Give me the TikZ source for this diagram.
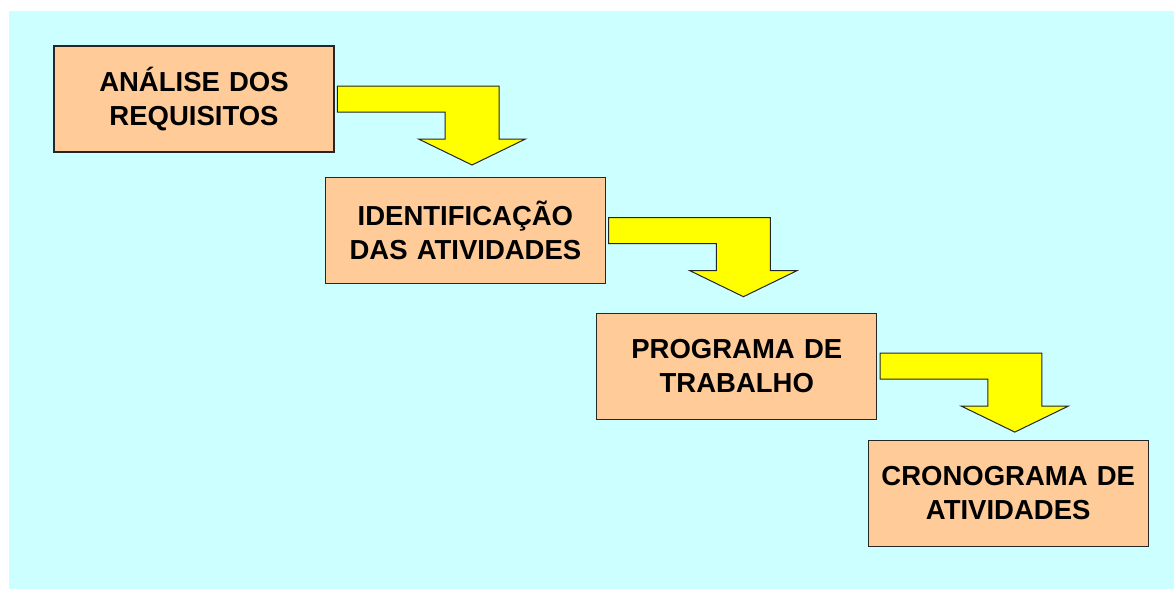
\documentclass[tikz,border=0pt]{standalone}
\usepackage{fontspec}
\setmainfont{Liberation Sans}
\usepackage{xcolor}
\usepackage{tikz}
\usetikzlibrary{positioning,calc}
\definecolor{sky}{HTML}{CCFFFF}
\definecolor{peach}{HTML}{FFCC99}
\definecolor{lemon}{HTML}{FFFF00}

\begin{document}
\begin{tikzpicture}[
  x=1pt, y=-1pt,
  stage/.style = {rectangle, draw=black!85, line width=1.1pt, fill=peach,
                  minimum width=280pt, minimum height=106pt,
                  text width=262pt, align=center, inner sep=0pt,
                  outer sep=0pt,
                  font=\fontsize{27.5}{34}\selectfont\bfseries},
  bentarrow/.style = {draw=black!85, line width=1pt, fill=lemon,
                      line join=miter}
]

%% ─── Background and page ────────────────────────────────────────
\useasboundingbox (0,0) rectangle (1174,589);
\fill[sky] (9,11) rectangle (1174,589);

%% ─── Stages (stepping down to the right) ────────────────────────
\node[stage] (anal) at (194,99)
  {ANÁLISE DOS\\REQUISITOS};

\node[stage, below right=25.7pt and -8.6pt of anal] (ident)
  {IDENTIFICAÇÃO\\DAS ATIVIDADES};

\node[stage, below right=29.4pt and -8.6pt of ident] (prog)
  {PROGRAMA DE\\TRABALHO};

\node[stage, below right=21pt and -8.6pt of prog] (crono)
  {CRONOGRAMA DE\\ATIVIDADES};

%% ─── Bent block arrows between stages ───────────────────────────
\foreach \a/\b in {anal/ident, ident/prog, prog/crono} {
  \coordinate (bs) at ($(\a.east)+(3.3,0)$);
  \coordinate (tp) at ($(\a.east)+(138,66)$);
  \draw[bentarrow] ($(bs)+(0,-13)$) -| ($(tp)+(27,-26)$)
    -- ++(26.5,0) -- (tp) -- ++(-53.5,-26) -- ++(26.5,0)
    |- ($(bs)+(0,13)$) -- cycle;
}

\end{tikzpicture}
\end{document}
